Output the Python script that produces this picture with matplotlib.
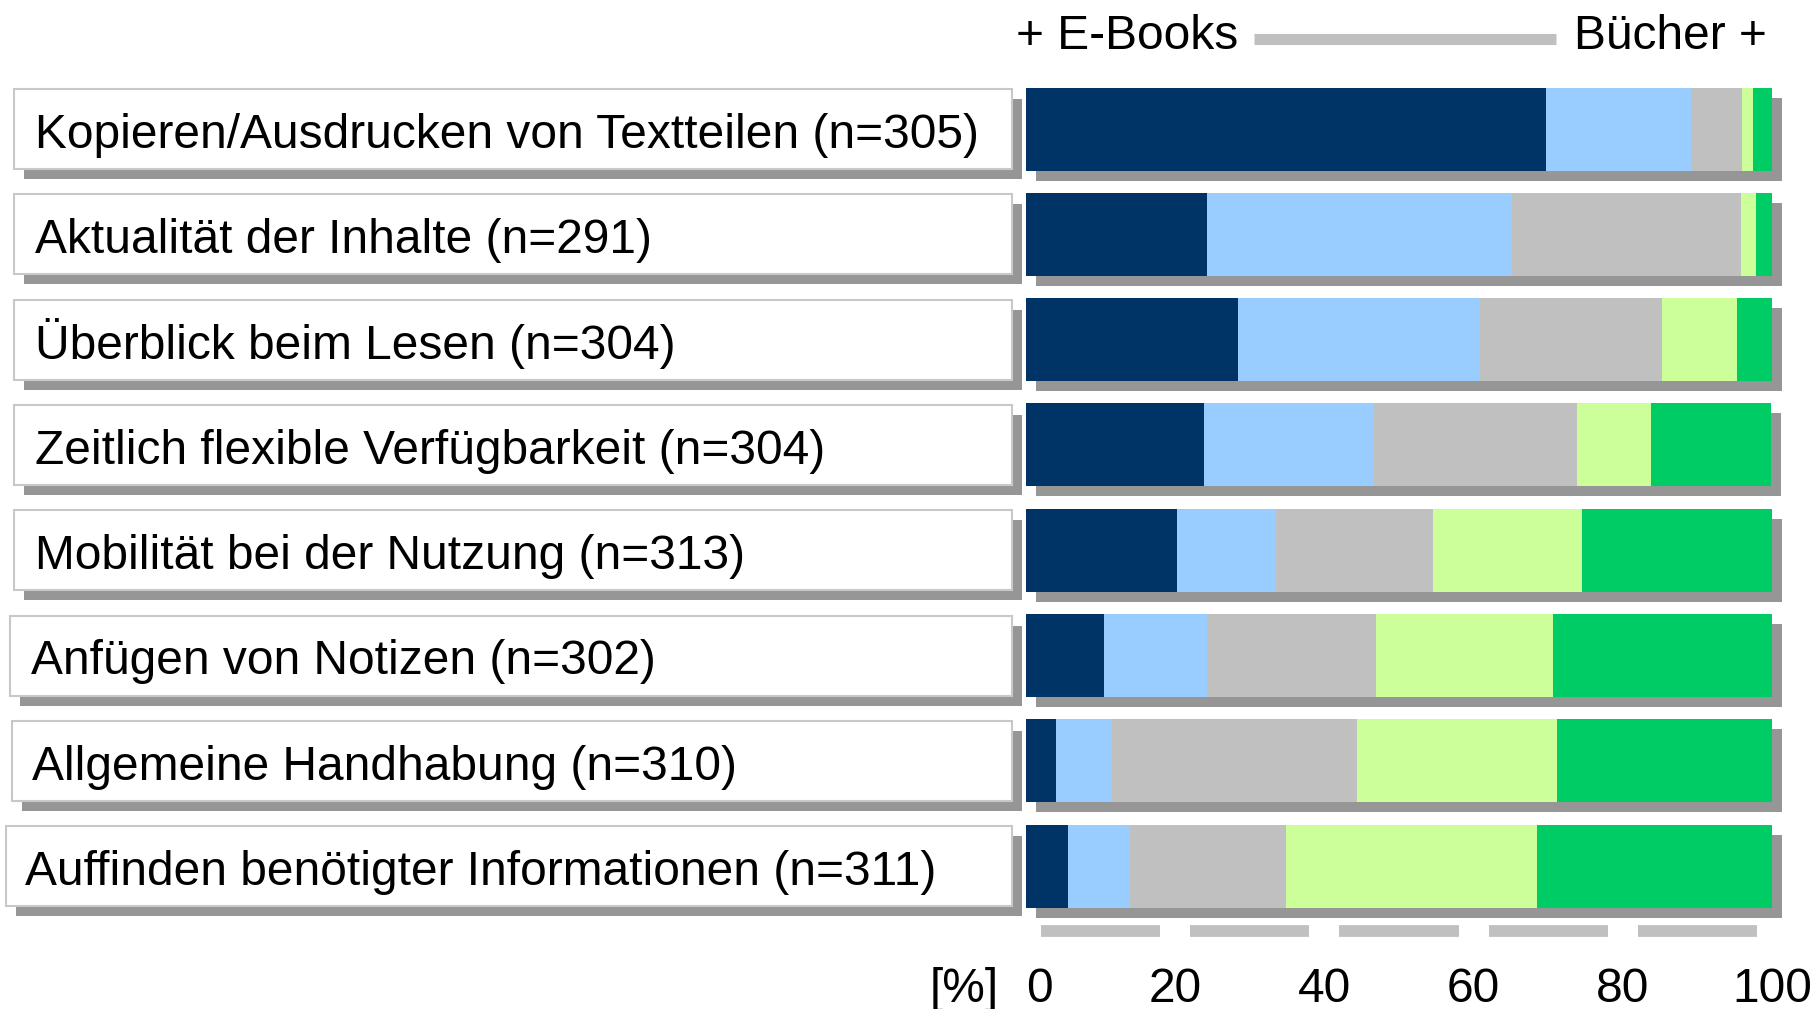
import numpy as np
import matplotlib.pyplot as plt
from matplotlib.patches import Rectangle

labels = [
    "Kopieren/Ausdrucken von Textteilen (n=305)",
    "Aktualität der Inhalte (n=291)",
    "Überblick beim Lesen (n=304)",
    "Zeitlich flexible Verfügbarkeit (n=304)",
    "Mobilität bei der Nutzung (n=313)",
    "Anfügen von Notizen (n=302)",
    "Allgemeine Handhabung (n=310)",
    "Auffinden benötigter Informationen (n=311)",
]
# shares in %, from "+ E-Books" (left) to "Bücher +" (right)
dark = [69.7, 24.3, 28.4, 23.9, 20.2, 10.5, 4.0, 5.6]
light_blue = [19.5, 40.8, 32.5, 22.7, 13.3, 13.7, 7.5, 8.4]
grey = [6.8, 30.8, 24.4, 27.2, 21.1, 22.7, 32.9, 20.8]
light_green = [1.4, 2.0, 10.0, 10.0, 19.9, 23.7, 26.8, 33.7]
green = [2.6, 2.1, 4.7, 16.1, 25.5, 29.4, 28.8, 31.5]
ticks = [0, 20, 40, 60, 80, 100]
tick_labels = ["0", "20", "40", "60", "80", "100"]

colors = ["#003366", "#99ccff", "#c0c0c0", "#ccff99", "#00cc66"]
shadow = "#969696"

plt.rcParams["font.family"] = ["Liberation Sans", "DejaVu Sans"]
fs = 34.5

W, H = 1815, 1009
px_x = 7.46      # pixels per percent
x0 = 1026        # pixel of 0 %
pitch = 105.3    # pixels per row
y0 = 129         # pixel centre of first row

fig = plt.figure(figsize=(W / 100, H / 100), dpi=100)
fig.patch.set_facecolor("white")
ax = fig.add_axes([0, 0, 1, 1])
ax.set_xlim(-x0 / px_x, (W - x0) / px_x)
ax.set_ylim((H - y0) / pitch, -y0 / pitch)
ax.axis("off")

rows = np.arange(len(labels))
dx = 10 / px_x
dy = 10 / pitch
bar_h = 83 / pitch

series = [dark, light_blue, grey, light_green, green]
totals = np.sum(series, axis=0)

# bar shadows
ax.barh(rows + dy, totals, left=dx, height=bar_h, color=shadow, zorder=1)
left = np.zeros(len(labels))
for vals, c in zip(series, colors):
    ax.barh(rows, vals, left=left, height=bar_h, color=c, zorder=2)
    left += np.array(vals)

# label boxes
box_left_px = [14, 14, 14, 14, 14, 10, 12, 6]
text_left_px = [35, 35, 35, 35, 35, 31, 32, 25]
box_right = (1012 - x0) / px_x
box_h = 80 / pitch
for i, lab in enumerate(labels):
    xl = (box_left_px[i] - x0) / px_x
    ax.add_patch(Rectangle((xl + dx, i - box_h / 2 + dy), box_right - xl, box_h,
                           facecolor=shadow, edgecolor="none", zorder=1))
    ax.add_patch(Rectangle((xl, i - box_h / 2), box_right - xl, box_h,
                           facecolor="white", edgecolor="#c8c8c8", lw=1.5, zorder=3))
    ax.text((text_left_px[i] - x0) / px_x, i + 0.18, lab, fontsize=fs,
            ha="left", va="baseline", zorder=4)

# header
hy = (49 - y0) / pitch
ax.text((1016 - x0) / px_x, hy, "+ E-Books", fontsize=fs, ha="left", va="baseline")
ax.text((1767 - x0) / px_x, hy, "Bücher +", fontsize=fs, ha="right", va="baseline")
ax.plot([(1254 - x0) / px_x, (1556 - x0) / px_x], [(38.5 - y0) / pitch] * 2,
        color="#c0c0c0", lw=8, solid_capstyle="butt")

# segmented axis line
sy = (931 - y0) / pitch
for t in ticks[:-1]:
    ax.plot([t + 2, t + 18], [sy, sy], color="#c0c0c0", lw=8.5, solid_capstyle="butt")

# tick labels
ty = (1002 - y0) / pitch
for t, tl in zip(ticks, tick_labels):
    ax.text(t, ty, tl, fontsize=fs, ha="left" if t == 0 else "center", va="baseline")
ax.text(-3.7, ty, "[%]", fontsize=fs, ha="right", va="baseline")

fig.savefig("out.png", dpi=100)
